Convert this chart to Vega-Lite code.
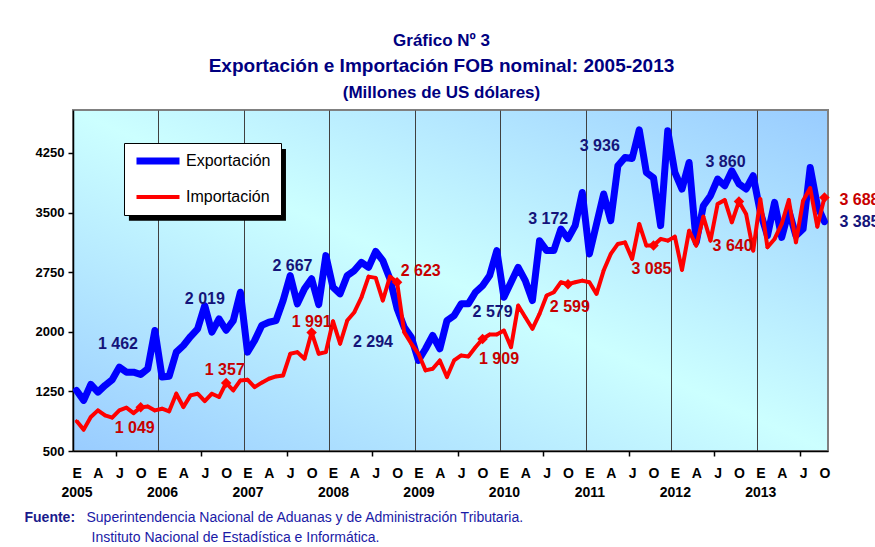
{
  "$schema": "https://vega.github.io/schema/vega-lite/v6.json",
  "width": 755,
  "height": 341,
  "autosize": "none",
  "padding": {"left": 73, "top": 110, "right": 47, "bottom": 96},
  "background": "white",
  "config": {"font": "Liberation Sans"},
  "title": {
    "text": "Gráfico Nº 3",
    "subtitle": "Exportación e Importación FOB nominal: 2005-2013",
    "frame": "group",
    "anchor": "middle",
    "dx": -9,
    "offset": 6,
    "font": "Liberation Sans",
    "fontSize": 17,
    "fontWeight": "bold",
    "color": "#000080",
    "subtitleFont": "Liberation Sans",
    "subtitleFontSize": 19,
    "subtitleFontWeight": "bold",
    "subtitleColor": "#000080",
    "subtitlePadding": 7
  },
  "view": {
    "fill": {
      "gradient": "linear", "x1": 0, "y1": 1, "x2": 1, "y2": 0,
      "stops": [
        {"offset": 0, "color": "#99ccff"},
        {"offset": 0.5, "color": "#ccffff"},
        {"offset": 1, "color": "#99ccff"}
      ]
    },
    "stroke": "#808080",
    "strokeWidth": 2
  },
  "datasets": {
    "serie": [
      {"t":0,"fecha":"2005-01","Exportación":1262,"Importación":877},
      {"t":1,"fecha":"2005-02","Exportación":1137,"Importación":769},
      {"t":2,"fecha":"2005-03","Exportación":1338,"Importación":927},
      {"t":3,"fecha":"2005-04","Exportación":1241,"Importación":1011},
      {"t":4,"fecha":"2005-05","Exportación":1325,"Importación":948},
      {"t":5,"fecha":"2005-06","Exportación":1397,"Importación":919},
      {"t":6,"fecha":"2005-07","Exportación":1555,"Importación":1011},
      {"t":7,"fecha":"2005-08","Exportación":1492,"Importación":1045},
      {"t":8,"fecha":"2005-09","Exportación":1492,"Importación":977},
      {"t":9,"fecha":"2005-10","Exportación":1462,"Importación":1049},
      {"t":10,"fecha":"2005-11","Exportación":1535,"Importación":1061},
      {"t":11,"fecha":"2005-12","Exportación":2016,"Importación":1011},
      {"t":12,"fecha":"2006-01","Exportación":1430,"Importación":1032},
      {"t":13,"fecha":"2006-02","Exportación":1440,"Importación":999},
      {"t":14,"fecha":"2006-03","Exportación":1744,"Importación":1221},
      {"t":15,"fecha":"2006-04","Exportación":1828,"Importación":1053},
      {"t":16,"fecha":"2006-05","Exportación":1940,"Importación":1200},
      {"t":17,"fecha":"2006-06","Exportación":2037,"Importación":1221},
      {"t":18,"fecha":"2006-07","Exportación":2330,"Importación":1128},
      {"t":19,"fecha":"2006-08","Exportación":1995,"Importación":1221},
      {"t":20,"fecha":"2006-09","Exportación":2163,"Importación":1179},
      {"t":21,"fecha":"2006-10","Exportación":2019,"Importación":1357},
      {"t":22,"fecha":"2006-11","Exportación":2141,"Importación":1262},
      {"t":23,"fecha":"2006-12","Exportación":2497,"Importación":1388},
      {"t":24,"fecha":"2007-01","Exportación":1744,"Importación":1397},
      {"t":25,"fecha":"2007-02","Exportación":1890,"Importación":1304},
      {"t":26,"fecha":"2007-03","Exportación":2080,"Importación":1360},
      {"t":27,"fecha":"2007-04","Exportación":2120,"Importación":1409},
      {"t":28,"fecha":"2007-05","Exportación":2141,"Importación":1438},
      {"t":29,"fecha":"2007-06","Exportación":2393,"Importación":1451},
      {"t":30,"fecha":"2007-07","Exportación":2707,"Importación":1723},
      {"t":31,"fecha":"2007-08","Exportación":2351,"Importación":1744},
      {"t":32,"fecha":"2007-09","Exportación":2540,"Importación":1661},
      {"t":33,"fecha":"2007-10","Exportación":2667,"Importación":1991},
      {"t":34,"fecha":"2007-11","Exportación":2342,"Importación":1723},
      {"t":35,"fecha":"2007-12","Exportación":2958,"Importación":1744},
      {"t":36,"fecha":"2008-01","Exportación":2560,"Importación":2133},
      {"t":37,"fecha":"2008-02","Exportación":2477,"Importación":1849},
      {"t":38,"fecha":"2008-03","Exportación":2707,"Importación":2141},
      {"t":39,"fecha":"2008-04","Exportación":2770,"Importación":2246},
      {"t":40,"fecha":"2008-05","Exportación":2874,"Importación":2434},
      {"t":41,"fecha":"2008-06","Exportación":2811,"Importación":2694},
      {"t":42,"fecha":"2008-07","Exportación":3012,"Importación":2678},
      {"t":43,"fecha":"2008-08","Exportación":2895,"Importación":2393},
      {"t":44,"fecha":"2008-09","Exportación":2665,"Importación":2694},
      {"t":45,"fecha":"2008-10","Exportación":2294,"Importación":2623},
      {"t":46,"fecha":"2008-11","Exportación":2057,"Importación":1995},
      {"t":47,"fecha":"2008-12","Exportación":1932,"Importación":1849},
      {"t":48,"fecha":"2009-01","Exportación":1639,"Importación":1723},
      {"t":49,"fecha":"2009-02","Exportación":1786,"Importación":1514},
      {"t":50,"fecha":"2009-03","Exportación":1953,"Importación":1535},
      {"t":51,"fecha":"2009-04","Exportación":1786,"Importación":1639},
      {"t":52,"fecha":"2009-05","Exportación":2141,"Importación":1430},
      {"t":53,"fecha":"2009-06","Exportación":2204,"Importación":1639},
      {"t":54,"fecha":"2009-07","Exportación":2351,"Importación":1702},
      {"t":55,"fecha":"2009-08","Exportación":2351,"Importación":1690},
      {"t":56,"fecha":"2009-09","Exportación":2497,"Importación":1806},
      {"t":57,"fecha":"2009-10","Exportación":2579,"Importación":1909},
      {"t":58,"fecha":"2009-11","Exportación":2707,"Importación":1966},
      {"t":59,"fecha":"2009-12","Exportación":3021,"Importación":1966},
      {"t":60,"fecha":"2010-01","Exportación":2434,"Importación":2016},
      {"t":61,"fecha":"2010-02","Exportación":2623,"Importación":1806},
      {"t":62,"fecha":"2010-03","Exportación":2811,"Importación":2330},
      {"t":63,"fecha":"2010-04","Exportación":2644,"Importación":2183},
      {"t":64,"fecha":"2010-05","Exportación":2393,"Importación":2037},
      {"t":65,"fecha":"2010-06","Exportación":3146,"Importación":2225},
      {"t":66,"fecha":"2010-07","Exportación":3021,"Importación":2456},
      {"t":67,"fecha":"2010-08","Exportación":3021,"Importación":2497},
      {"t":68,"fecha":"2010-09","Exportación":3293,"Importación":2623},
      {"t":69,"fecha":"2010-10","Exportación":3172,"Importación":2599},
      {"t":70,"fecha":"2010-11","Exportación":3335,"Importación":2623},
      {"t":71,"fecha":"2010-12","Exportación":3753,"Importación":2644},
      {"t":72,"fecha":"2011-01","Exportación":2979,"Importación":2623},
      {"t":73,"fecha":"2011-02","Exportación":3356,"Importación":2477},
      {"t":74,"fecha":"2011-03","Exportación":3733,"Importación":2770},
      {"t":75,"fecha":"2011-04","Exportación":3398,"Importación":2979},
      {"t":76,"fecha":"2011-05","Exportación":4088,"Importación":3105},
      {"t":77,"fecha":"2011-06","Exportación":4193,"Importación":3125},
      {"t":78,"fecha":"2011-07","Exportación":4180,"Importación":2916},
      {"t":79,"fecha":"2011-08","Exportación":4540,"Importación":3356},
      {"t":80,"fecha":"2011-09","Exportación":4004,"Importación":3084},
      {"t":81,"fecha":"2011-10","Exportación":3936,"Importación":3085},
      {"t":82,"fecha":"2011-11","Exportación":3335,"Importación":3168},
      {"t":83,"fecha":"2011-12","Exportación":4528,"Importación":3146},
      {"t":84,"fecha":"2012-01","Exportación":4004,"Importación":3197},
      {"t":85,"fecha":"2012-02","Exportación":3796,"Importación":2778},
      {"t":86,"fecha":"2012-03","Exportación":4130,"Importación":3272},
      {"t":87,"fecha":"2012-04","Exportación":3125,"Importación":3084},
      {"t":88,"fecha":"2012-05","Exportación":3586,"Importación":3449},
      {"t":89,"fecha":"2012-06","Exportación":3712,"Importación":3146},
      {"t":90,"fecha":"2012-07","Exportación":3921,"Importación":3607},
      {"t":91,"fecha":"2012-08","Exportación":3837,"Importación":3658},
      {"t":92,"fecha":"2012-09","Exportación":4025,"Importación":3377},
      {"t":93,"fecha":"2012-10","Exportación":3860,"Importación":3640},
      {"t":94,"fecha":"2012-11","Exportación":3796,"Importación":3482},
      {"t":95,"fecha":"2012-12","Exportación":3963,"Importación":3021},
      {"t":96,"fecha":"2013-01","Exportación":3502,"Importación":3670},
      {"t":97,"fecha":"2013-02","Exportación":3209,"Importación":3063},
      {"t":98,"fecha":"2013-03","Exportación":3628,"Importación":3168},
      {"t":99,"fecha":"2013-04","Exportación":3188,"Importación":3356},
      {"t":100,"fecha":"2013-05","Exportación":3523,"Importación":3658},
      {"t":101,"fecha":"2013-06","Exportación":3209,"Importación":3125},
      {"t":102,"fecha":"2013-07","Exportación":3293,"Importación":3649},
      {"t":103,"fecha":"2013-08","Exportación":4067,"Importación":3808},
      {"t":104,"fecha":"2013-09","Exportación":3586,"Importación":3322},
      {"t":105,"fecha":"2013-10","Exportación":3385,"Importación":3688}
    ],
    "etiquetas": [
      {"serie":"Exportación","texto":"1 462","t":3.0,"valor":1849},
      {"serie":"Exportación","texto":"2 019","t":15.2,"valor":2414},
      {"serie":"Exportación","texto":"2 667","t":27.5,"valor":2832},
      {"serie":"Exportación","texto":"2 294","t":38.8,"valor":1869},
      {"serie":"Exportación","texto":"2 579","t":55.6,"valor":2246},
      {"serie":"Exportación","texto":"3 172","t":63.4,"valor":3419},
      {"serie":"Exportación","texto":"3 936","t":70.65,"valor":4340},
      {"serie":"Exportación","texto":"3 860","t":88.3,"valor":4130},
      {"serie":"Exportación","texto":"3 385","t":107.1,"valor":3377},
      {"serie":"Importación","texto":"1 049","t":5.35,"valor":794},
      {"serie":"Importación","texto":"1 357","t":18.0,"valor":1514},
      {"serie":"Importación","texto":"1 991","t":30.2,"valor":2129},
      {"serie":"Importación","texto":"2 623","t":45.5,"valor":2761},
      {"serie":"Importación","texto":"1 909","t":56.5,"valor":1661},
      {"serie":"Importación","texto":"2 599","t":66.45,"valor":2309},
      {"serie":"Importación","texto":"3 085","t":77.9,"valor":2791},
      {"serie":"Importación","texto":"3 640","t":89.3,"valor":3084},
      {"serie":"Importación","texto":"3 688","t":107.1,"valor":3658}
    ],
    "sombra": [
      {"t0": 7.35, "t1": 29.4, "v0": 3398, "v1": 4300}
    ]
  },
  "layer": [
    {
      "data": {"name": "sombra"},
      "mark": {"type": "rect", "color": "#000000", "opacity": 1},
      "encoding": {
        "x": {"field": "t0", "type": "quantitative", "scale": {"domain": [-0.5, 105.5], "nice": false, "zero": false}, "axis": null},
        "x2": {"field": "t1"},
        "y": {"field": "v0", "type": "quantitative", "scale": {"domain": [500, 4790], "nice": false, "zero": false}, "axis": null},
        "y2": {"field": "v1"}
      }
    },
    {
      "data": {"name": "serie"},
      "transform": [{"fold": ["Exportación", "Importación"], "as": ["serie", "valor"]}, {"filter": "datum.serie === 'Exportación'"}],
      "mark": {"type": "line", "strokeWidth": 7, "strokeJoin": "round", "strokeCap": "round"},
      "encoding": {
        "x": {"field": "t", "type": "quantitative",
          "axis": {"orient": "bottom", "values": [0,3,6,9,12,15,18,21,24,27,30,33,36,39,42,45,48,51,54,57,60,63,66,69,72,75,78,81,84,87,90,93,96,99,102,105],
            "labelExpr": "['E','A','J','O'][round(datum.value/3)%4]", "ticks": false, "grid": false,
            "domain": true, "domainColor": "#000000", "domainWidth": 1.5,
            "labelFontSize": 14, "labelFontWeight": "bold", "labelColor": "#000000", "labelPadding": 15,
            "labelOverlap": false, "labelFlush": false,
            "title": "Fuente:", "titleX": -49, "titleY": 66, "titleAlign": "left", "titleBaseline": "middle",
            "titleFont": "Liberation Sans", "titleFontSize": 14, "titleFontWeight": "bold", "titleColor": "#1a1a8c"}},
        "y": {"field": "valor", "type": "quantitative",
          "axis": {"values": [500,1250,2000,2750,3500,4250], "format": "d", "grid": false, "title": null,
            "domainColor": "#000000", "domainWidth": 1.5, "tickColor": "#000000", "tickSize": 5, "tickWidth": 1.5,
            "labelFontSize": 13, "labelFontWeight": "bold", "labelColor": "#000000", "labelPadding": 4}},
        "color": {"field": "serie", "type": "nominal",
          "scale": {"domain": ["Exportación", "Importación"], "range": ["#0000ff", "#ff0000"]},
          "legend": {"orient": "none", "legendX": 51, "legendY": 33, "title": null,
            "fillColor": "#ffffff", "strokeColor": "#000000", "padding": 10, "rowPadding": 14,
            "symbolType": "stroke", "symbolSize": 1850, "symbolStrokeWidth": 6, "symbolOffset": 16,
            "labelFontSize": 16, "labelColor": "#000000", "labelOffset": 20, "labelLimit": 200,
            "encode": {"symbols": {"update": {"strokeWidth": {"signal": "datum.value === 'Exportación' ? 7 : 4"}}}}}}
      }
    },
    {
      "data": {"name": "serie"},
      "transform": [{"fold": ["Exportación", "Importación"], "as": ["serie", "valor"]}, {"filter": "datum.serie === 'Importación'"}],
      "mark": {"type": "line", "strokeWidth": 4, "strokeJoin": "round"},
      "encoding": {
        "x": {"field": "t", "type": "quantitative",
          "axis": {"orient": "bottom", "values": [0,12,24,36,48,60,72,84,96],
            "labelExpr": "'' + (2005 + round(datum.value/12))", "ticks": false, "grid": false, "domain": false,
            "labelFontSize": 14, "labelFontWeight": "bold", "labelColor": "#000000", "labelPadding": 34,
            "labelOverlap": false, "labelFlush": false,
            "title": "Superintendencia Nacional de Aduanas y de Administración Tributaria.", "titleX": 13, "titleY": 66, "titleAlign": "left", "titleBaseline": "middle",
            "titleFont": "Liberation Sans", "titleFontSize": 14, "titleFontWeight": "normal", "titleColor": "#1a1aa6"}},
        "y": {"field": "valor", "type": "quantitative", "axis": null},
        "color": {"field": "serie", "type": "nominal"}
      }
    },
    {
      "data": {"name": "serie"},
      "transform": [{"fold": ["Importación"], "as": ["serie", "valor"]}],
      "mark": {"type": "point", "shape": "diamond", "filled": true, "size": 18, "color": "#ff0000", "opacity": 1},
      "encoding": {
        "x": {"field": "t", "type": "quantitative",
          "axis": {"orient": "bottom", "values": [5.5,17.5,29.5,41.5,53.5,65.5,77.5,89.5,101.5],
            "labels": false, "ticks": true, "tickSize": 5, "tickColor": "#000000", "tickWidth": 1.5, "grid": false, "domain": false,
            "title": "Instituto Nacional de Estadística e Informática.", "titleX": 18, "titleY": 86, "titleAlign": "left", "titleBaseline": "middle",
            "titleFont": "Liberation Sans", "titleFontSize": 14, "titleFontWeight": "normal", "titleColor": "#1a1aa6"}},
        "y": {"field": "valor", "type": "quantitative", "axis": null}
      }
    },
    {
      "data": {"name": "serie"},
      "transform": [{"fold": ["Importación"], "as": ["serie", "valor"]}, {"filter": "datum.t % 12 === 9"}],
      "mark": {"type": "point", "shape": "diamond", "filled": true, "size": 110, "color": "#ff0000", "opacity": 1},
      "encoding": {
        "x": {"field": "t", "type": "quantitative",
          "axis": {"orient": "bottom", "values": [11.5,23.5,35.5,47.5,59.5,71.5,83.5,95.5],
            "labels": false, "ticks": false, "domain": false, "grid": true, "gridColor": "#404040", "gridWidth": 1, "gridOpacity": 1, "title": null}},
        "y": {"field": "valor", "type": "quantitative", "axis": null}
      }
    },
    {
      "data": {"name": "etiquetas"},
      "transform": [{"filter": "datum.serie === 'Exportación'"}],
      "mark": {"type": "text", "align": "left", "baseline": "middle", "fontSize": 16, "fontWeight": "bold", "color": "#14147a"},
      "encoding": {
        "x": {"field": "t", "type": "quantitative",
          "axis": {"orient": "top", "labels": false, "ticks": false, "domain": false, "grid": false,
            "title": "(Millones de US dólares)", "titleX": 368, "titleY": -18, "titleBaseline": "middle",
            "titleFont": "Liberation Sans", "titleFontSize": 17, "titleFontWeight": "bold", "titleColor": "#000080"}},
        "y": {"field": "valor", "type": "quantitative", "axis": null},
        "text": {"field": "texto"}
      }
    },
    {
      "data": {"name": "etiquetas"},
      "transform": [{"filter": "datum.serie === 'Importación'"}],
      "mark": {"type": "text", "align": "left", "baseline": "middle", "fontSize": 16, "fontWeight": "bold", "color": "#c80000"},
      "encoding": {
        "x": {"field": "t", "type": "quantitative", "axis": null},
        "y": {"field": "valor", "type": "quantitative", "axis": null},
        "text": {"field": "texto"}
      }
    }
  ],
  "resolve": {"axis": {"x": "independent", "y": "independent"}}
}
